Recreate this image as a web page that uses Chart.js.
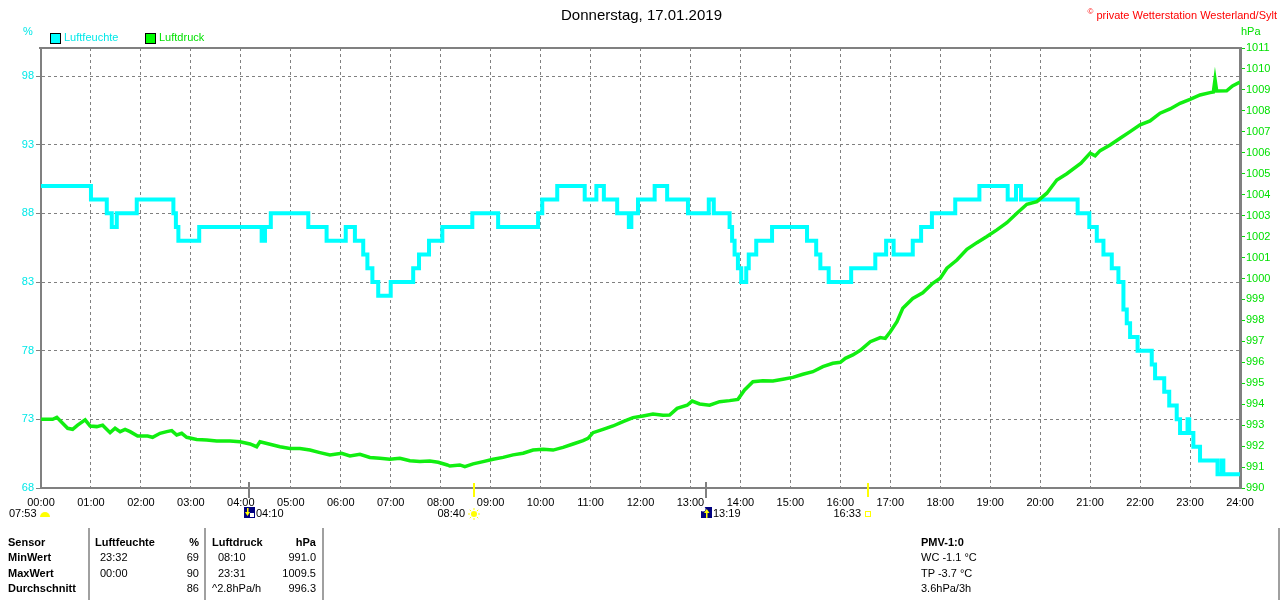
<!DOCTYPE html>
<html lang="de">
<head>
<meta charset="utf-8">
<title>Donnerstag, 17.01.2019</title>
<script src="https://cdn.jsdelivr.net/npm/chart.js@4.4.1/dist/chart.umd.min.js"></script>
<style>
    body { margin: 0; background: #fff; }
    #wrap {
        position: relative; width: 1280px; height: 600px; overflow: hidden;
        font-family: 'Liberation Sans', Arial, sans-serif; font-size: 11px; line-height: 13px; color: #000;
    }
    #wrap canvas { position: absolute; left: 0; top: 0; }
    .t { position: absolute; white-space: nowrap; }
    .b { font-weight: bold; }
    .title { top: 6px; left: 0; width: 1283px; text-align: center; font-size: 15px; line-height: 17px; }
    .copy { top: 5px; right: 3px; color: #ff0000; }
    .copy sup { font-size: 8px; }
    .box { position: absolute; top: 33px; width: 9px; height: 9px; border: 1px solid #000; }
    .sep { position: absolute; top: 528px; width: 2px; height: 72px; background: #a0a0a0; }
</style>
</head>
<body>
<div id="wrap">
    <canvas id="chart" width="1280" height="600"></canvas>

    <div class="t title">Donnerstag, 17.01.2019</div>
    <div class="t copy"><sup>©</sup> private Wetterstation Westerland/Sylt</div>

    <div class="t" style="left:23px; top:25px; color:#00e8e8;">%</div>
    <div class="t" style="left:1241px; top:25px; color:#00e000;">hPa</div>

    <div class="box" style="left:50px; background:#00ffff;"></div>
    <div class="t" style="left:64px; top:31px; color:#00e8e8;">Luftfeuchte</div>
    <div class="box" style="left:145px; background:#00ff00;"></div>
    <div class="t" style="left:159px; top:31px; color:#00e000;">Luftdruck</div>

    <!-- Sonne / Mond -->
    <div class="t" style="left:9px; top:507px;">07:53</div>
    <div class="t" style="left:256px; top:507px;">04:10</div>
    <div class="t" style="right:815px; top:507px;">08:40</div>
    <div class="t" style="left:713px; top:507px;">13:19</div>
    <div class="t" style="right:419px; top:507px;">16:33</div>

    <!-- Tabelle -->
    <div class="sep" style="left:88px;"></div>
    <div class="sep" style="left:204px;"></div>
    <div class="sep" style="left:322px;"></div>
    <div class="sep" style="left:1278px;"></div>

    <div class="t b" style="left:8px; top:536px;">Sensor</div>
    <div class="t b" style="left:8px; top:551px;">MinWert</div>
    <div class="t b" style="left:8px; top:567px;">MaxWert</div>
    <div class="t b" style="left:8px; top:582px;">Durchschnitt</div>

    <div class="t b" style="left:95px; top:536px;">Luftfeuchte</div>
    <div class="t b" style="right:1081px; top:536px;">%</div>
    <div class="t" style="left:100px; top:551px;">23:32</div>
    <div class="t" style="right:1081px; top:551px;">69</div>
    <div class="t" style="left:100px; top:567px;">00:00</div>
    <div class="t" style="right:1081px; top:567px;">90</div>
    <div class="t" style="right:1081px; top:582px;">86</div>

    <div class="t b" style="left:212px; top:536px;">Luftdruck</div>
    <div class="t b" style="right:964px; top:536px;">hPa</div>
    <div class="t" style="left:218px; top:551px;">08:10</div>
    <div class="t" style="right:964px; top:551px;">991.0</div>
    <div class="t" style="left:218px; top:567px;">23:31</div>
    <div class="t" style="right:964px; top:567px;">1009.5</div>
    <div class="t" style="left:212px; top:582px;">^2.8hPa/h</div>
    <div class="t" style="right:964px; top:582px;">996.3</div>

    <div class="t b" style="left:921px; top:536px;">PMV-1:0</div>
    <div class="t" style="left:921px; top:551px;">WC -1.1 °C</div>
    <div class="t" style="left:921px; top:567px;">TP -3.7 °C</div>
    <div class="t" style="left:921px; top:582px;">3.6hPa/3h</div>
</div>

<script>
// Luftfeuchte (%), Minuten seit 00:00 an denen sich der Wert aendert
const humTimes = [0, 60, 79, 85, 91, 115, 159, 162, 165, 190, 265, 269, 276, 321, 343,
    366, 377, 387, 392, 398, 405, 420, 447, 454, 466, 482, 518, 549, 597, 602,
    620, 653, 667, 676, 692, 706, 709, 717, 737, 752, 777, 802, 808, 827, 830,
    833, 837, 841, 847, 850, 859, 878, 920, 931, 936, 946, 973, 1002, 1015, 1024,
    1047, 1057, 1070, 1098, 1127, 1161, 1171, 1177, 1245, 1259, 1268, 1276, 1286, 1294, 1300,
    1304, 1308, 1317, 1334, 1338, 1349, 1355, 1364, 1368, 1377, 1379, 1384, 1392, 1413, 1418,
    1420, 1440];
const humValues = [90, 89, 88, 87, 88, 89, 88, 87, 86, 87, 86, 87, 88, 87, 86,
    87, 86, 85, 84, 83, 82, 83, 84, 85, 86, 87, 88, 87, 88, 89,
    90, 89, 90, 89, 88, 87, 88, 89, 90, 89, 88, 89, 88, 87, 86,
    85, 84, 83, 84, 85, 86, 87, 86, 85, 84, 83, 84, 85, 86, 85,
    86, 87, 88, 89, 90, 89, 90, 89, 88, 87, 86, 85, 84, 83, 81,
    80, 79, 78, 77, 76, 75, 74, 73, 72, 73, 72, 71, 70, 69, 70,
    69, 69];

// Luftdruck (hPa)
const presTimes = [0, 14, 19, 26, 32, 38, 44, 53, 59, 67, 74, 83, 89, 95, 101,
    107, 116, 128, 134, 143, 151, 157, 163, 169, 175, 187, 199, 211, 227, 239,
    251, 259, 263, 275, 287, 299, 311, 323, 335, 347, 361, 371, 383, 395, 407,
    419, 431, 443, 455, 467, 477, 488, 491, 503, 509, 519, 531, 543, 555, 567,
    579, 591, 603, 615, 627, 639, 651, 657, 663, 675, 687, 699, 711, 723, 735,
    747, 755, 764, 776, 782, 791, 803, 815, 827, 837, 845, 855, 867, 879, 891,
    903, 915, 927, 939, 951, 960, 966, 975, 984, 996, 1008, 1014, 1020, 1028, 1035,
    1047, 1059, 1071, 1080, 1088, 1100, 1112, 1124, 1136, 1148, 1160, 1172, 1184, 1196, 1208,
    1220, 1232, 1249, 1260, 1266, 1272, 1284, 1296, 1308, 1320, 1332, 1344, 1356, 1368, 1380,
    1392, 1404, 1408, 1410, 1412, 1424, 1431, 1440];
const presValues = [993.28, 993.28, 993.37, 993.09, 992.85, 992.80, 993.00, 993.25, 992.96, 992.93, 993.00, 992.64, 992.85, 992.69, 992.80,
    992.69, 992.48, 992.48, 992.42, 992.61, 992.69, 992.74, 992.53, 992.61, 992.42, 992.32, 992.29, 992.24, 992.24, 992.21,
    992.10, 991.97, 992.21, 992.09, 991.97, 991.89, 991.89, 991.81, 991.69, 991.58, 991.66, 991.53, 991.61, 991.46, 991.42,
    991.37, 991.42, 991.30, 991.26, 991.29, 991.23, 991.10, 991.05, 991.10, 991.02, 991.15, 991.26, 991.37, 991.46, 991.58,
    991.66, 991.81, 991.85, 991.81, 991.94, 992.10, 992.26, 992.37, 992.64, 992.80, 992.96, 993.17, 993.36, 993.44, 993.53,
    993.47, 993.48, 993.80, 993.95, 994.15, 994.01, 993.95, 994.12, 994.17, 994.23, 994.68, 995.07, 995.12, 995.11, 995.19,
    995.28, 995.43, 995.55, 995.79, 995.95, 996.00, 996.19, 996.35, 996.57, 996.98, 997.18, 997.14, 997.46, 997.94, 998.58,
    999.05, 999.32, 999.77, 1000.01, 1000.49, 1000.88, 1001.39, 1001.71, 1002.00, 1002.32, 1002.66, 1003.11, 1003.54, 1003.67, 1004.07,
    1004.70, 1005.00, 1005.50, 1005.98, 1005.85, 1006.10, 1006.37, 1006.69, 1007.01, 1007.33, 1007.52, 1007.89, 1008.09, 1008.36, 1008.55,
    1008.76, 1008.87, 1008.90, 1009.50, 1008.95, 1008.96, 1009.19, 1009.37];

// Achsen
const humTicks = [68, 73, 78, 83, 88, 93, 98];
const humMin = 68;
const humMax = 100.04;
const presMin = 990;
const presMax = 1011;

// Mond- und Sonnenereignisse (Minuten)
const eventTimes = [250, 520, 799, 993];
const eventKinds = ['moonset', 'sunrise', 'moonrise', 'sunset'];

const GRID = '#808080';

function hourLabel(v) {
    return String(Math.round(v / 60)).padStart(2, '0') + ':00';
}

// Rahmen oben
const frameTop = {
    id: 'frameTop',
    afterDraw(chart) {
        const { ctx, chartArea } = chart;
        ctx.save();
        ctx.strokeStyle = GRID;
        ctx.lineWidth = 2;
        ctx.beginPath();
        ctx.moveTo(chartArea.left - 2, chartArea.top);
        ctx.lineTo(chartArea.right + 2, chartArea.top);
        ctx.stroke();
        ctx.restore();
    }
};

// Sonnen- und Mondsymbole unter der Zeitachse
const eventMarks = {
    id: 'eventMarks',
    afterDraw(chart) {
        const ctx = chart.ctx;
        const xs = chart.scales.x;
        const base = chart.chartArea.bottom;
        ctx.save();

        // Daemmerung links
        ctx.fillStyle = '#ffff00';
        ctx.beginPath();
        ctx.arc(45, 517, 5, Math.PI, 0);
        ctx.fill();

        eventTimes.forEach((t, i) => {
            const px = Math.round(xs.getPixelForValue(t));
            const kind = eventKinds[i];
            const isMoon = kind.startsWith('moon');

            ctx.fillStyle = isMoon ? GRID : '#ffff00';
            if (isMoon) ctx.fillRect(px - 1, base - 6, 2, 16);
            else ctx.fillRect(px - 1, base - 5, 2, 14);

            if (isMoon) {
                ctx.fillStyle = '#000080';
                ctx.fillRect(px - 5, 507, 11, 11);
                ctx.fillStyle = '#ffffff';
                if (kind === 'moonset') {
                    ctx.fillRect(px + 1, 513, 4, 4);
                } else {
                    ctx.beginPath();
                    ctx.arc(px - 3, 509, 2.5, 0, Math.PI * 2);
                    ctx.fill();
                }
                ctx.fillStyle = '#ffff00';
                ctx.beginPath();
                if (kind === 'moonset') {
                    ctx.fillRect(px - 2, 508, 1.5, 5);
                    ctx.moveTo(px - 4, 512); ctx.lineTo(px + 1, 512); ctx.lineTo(px - 1.5, 516);
                } else {
                    ctx.fillRect(px, 512, 1.5, 6);
                    ctx.moveTo(px - 2, 513); ctx.lineTo(px + 3.5, 513); ctx.lineTo(px + 0.75, 509);
                }
                ctx.fill();
            } else if (kind === 'sunrise') {
                ctx.fillStyle = '#ffff00';
                ctx.beginPath();
                ctx.arc(px, 514, 3, 0, Math.PI * 2);
                ctx.fill();
                ctx.strokeStyle = '#ffff00';
                ctx.lineWidth = 1;
                for (let a = 0; a < 8; a++) {
                    const ang = a * Math.PI / 4;
                    ctx.beginPath();
                    ctx.moveTo(px + Math.cos(ang) * 4, 514 + Math.sin(ang) * 4);
                    ctx.lineTo(px + Math.cos(ang) * 6, 514 + Math.sin(ang) * 6);
                    ctx.stroke();
                }
            } else {
                ctx.strokeStyle = '#ffff00';
                ctx.lineWidth = 1;
                ctx.strokeRect(px - 2.5, 511.5, 5, 5);
            }
        });
        ctx.restore();
    }
};

document.addEventListener('DOMContentLoaded', function() {
    Chart.defaults.font.family = "'Liberation Sans', Arial, sans-serif";
    Chart.defaults.font.size = 11;

    const ctx = document.getElementById('chart').getContext('2d');
    new Chart(ctx, {
        type: 'line',
        data: {
            datasets: [{
                label: 'Luftdruck',
                data: presTimes.map((t, i) => ({ x: t, y: presValues[i] })),
                yAxisID: 'y2',
                borderColor: '#11ee11',
                borderWidth: 3.5,
                pointRadius: 0,
                tension: 0,
                order: 0
            }, {
                label: 'Luftfeuchte',
                data: humTimes.map((t, i) => ({ x: t, y: humValues[i] })),
                yAxisID: 'y',
                borderColor: '#00ffff',
                borderWidth: 4,
                pointRadius: 0,
                stepped: 'before',
                order: 1
            }]
        },
        options: {
            responsive: false,
            animation: false,
            layout: { padding: { top: 48 } },
            plugins: {
                legend: { display: false },
                tooltip: { enabled: false }
            },
            scales: {
                x: {
                    type: 'linear',
                    min: 0,
                    max: 1440,
                    afterFit: s => { s.height = 112; },
                    ticks: {
                        stepSize: 60,
                        autoSkip: false,
                        maxRotation: 0,
                        color: '#000',
                        padding: 8,
                        callback: hourLabel
                    },
                    grid: { color: GRID, lineWidth: 1, drawTicks: false },
                    border: { color: GRID, width: 2, dash: [3, 3] }
                },
                y: {
                    position: 'left',
                    min: humMin,
                    max: humMax,
                    afterFit: s => { s.width = 41; },
                    afterBuildTicks: s => { s.ticks = humTicks.map(v => ({ value: v })); },
                    ticks: { color: '#00e8e8', padding: 2, callback: v => String(v) },
                    grid: { color: GRID, lineWidth: 1, tickLength: 5 },
                    border: { color: GRID, width: 2, dash: [3, 3] }
                },
                y2: {
                    position: 'right',
                    min: presMin,
                    max: presMax,
                    afterFit: s => { s.width = 40; },
                    ticks: { stepSize: 1, autoSkip: false, color: '#00e000', padding: 1, callback: v => String(v) },
                    grid: { drawOnChartArea: false, color: '#00e000', tickLength: 5 },
                    border: { color: GRID, width: 3 }
                }
            }
        },
        plugins: [frameTop, eventMarks]
    });
});
</script>
</body>
</html>
